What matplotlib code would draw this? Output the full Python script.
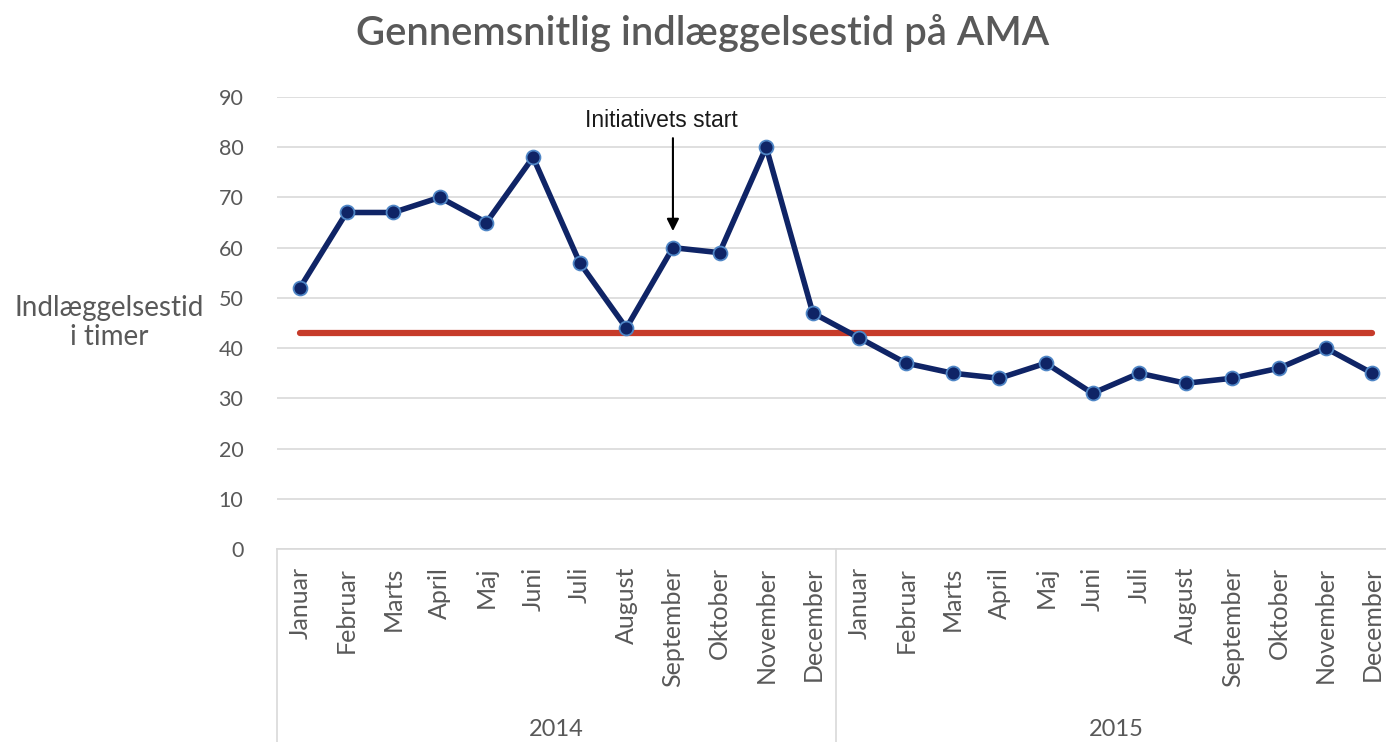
import numpy as np
import matplotlib
matplotlib.use("Agg")
import matplotlib.pyplot as plt

plt.rcParams['font.family'] = ['Lato', 'DejaVu Sans']

months = ["Januar", "Februar", "Marts", "April", "Maj", "Juni", "Juli",
          "August", "September", "Oktober", "November", "December"]
years = ["2014", "2015"]
hours = [52, 67, 67, 70, 65, 78, 57, 44, 60, 59, 80, 47,
         42, 37, 35, 34, 37, 31, 35, 33, 34, 36, 40, 35]
target = 43
start_idx = 8  # September 2014

labels = months * len(years)
x = np.arange(len(hours))

fig = plt.figure(figsize=(13.86, 7.42), dpi=100)
# plot area runs a little past the right edge, as in the original
ax = fig.add_axes([0.1996, 0.2601, 0.8073, 0.6092])

gray = '#595959'
navy = '#0f2466'

ax.set_ylim(0, 90)
ax.set_xlim(-0.5, len(hours) - 0.5)
ax.set_yticks(range(0, 91, 10))
ax.grid(axis='y', color='#d9d9d9', lw=1.2)
ax.set_axisbelow(True)
for s in ['top', 'right', 'left']:
    ax.spines[s].set_visible(False)
ax.spines['bottom'].set_color('#d9d9d9')
ax.spines['bottom'].set_linewidth(1.2)

ax.plot([x[0], x[-1]], [target, target], color='#c63b2a', lw=4.5,
        solid_capstyle='round', zorder=2)
ax.plot(x, hours, color=navy, lw=4, marker='o', markersize=10,
        markerfacecolor=navy, markeredgecolor='#4f86c6', markeredgewidth=1.3,
        zorder=3)

# arrow marking the start of the initiative
ax.annotate("", xy=(x[start_idx], hours[start_idx] + 3.3),
            xytext=(x[start_idx], 81.8),
            arrowprops=dict(arrowstyle='-|>', color='black', lw=1.5,
                            shrinkA=0, shrinkB=0, mutation_scale=18))
ax.text(x[start_idx] - 0.25, 85.3, "Initiativets start", ha='center',
        va='center', fontsize=16.5, family='Liberation Sans', color='#1a1a1a')

ax.set_xticks(x)
ax.set_xticklabels(labels, rotation=90, fontsize=18, color=gray)
ax.tick_params(axis='x', length=0, pad=13)
ax.tick_params(axis='y', length=0, pad=24, labelsize=15.5, labelcolor=gray)

# year group separators and labels
tr = ax.get_xaxis_transform()
for b in [-0.5, 11.5, 23.5]:
    ax.plot([b, b], [0, -0.43], transform=tr, color='#d9d9d9', lw=1.2,
            clip_on=False)
for i, yr in enumerate(years):
    ax.text(i * 12 + 5.5, -0.40, yr, transform=tr, ha='center', va='center',
            fontsize=17, color=gray)

fig.text(0.507, 0.955, "Gennemsnitlig indlæggelsestid på AMA", ha='center',
         va='center', fontsize=28.8, color=gray, weight='semibold')
fig.text(0.079, 0.565, "Indlæggelsestid\ni timer", ha='center', va='center',
         fontsize=20, color=gray, linespacing=1.15)

fig.savefig("out.png", dpi=100)
